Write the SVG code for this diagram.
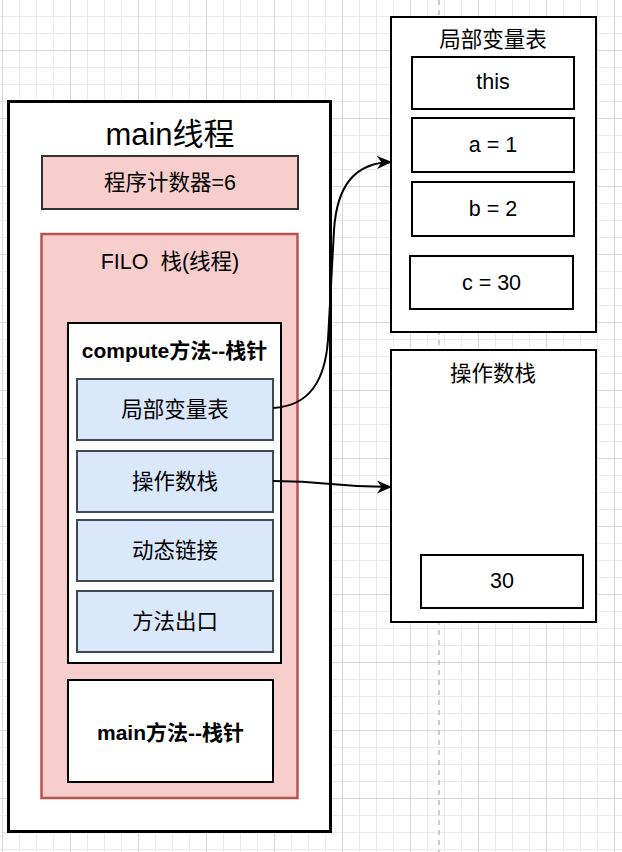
<svg xmlns="http://www.w3.org/2000/svg" width="622" height="852" viewBox="0 0 622 852">
<defs>
<pattern id="grid" patternUnits="userSpaceOnUse" x="2" y="50" width="68" height="68">
<path d="M17.5 0V68M34.5 0V68M51.5 0V68M0 17.5H68M0 34.5H68M0 51.5H68" stroke="#ebebeb" stroke-width="1" fill="none"/>
<path d="M0.5 0V68M0 0.5H68" stroke="#d8d8d8" stroke-width="1" fill="none"/>
</pattern>
<marker id="arrow" viewBox="0 0 15 13" refX="14" refY="6.5" markerWidth="15" markerHeight="13" markerUnits="userSpaceOnUse" orient="auto">
<path d="M0,0 L15,6.5 L0,13 L4.5,6.5 Z" fill="#000"/>
</marker>
</defs>
<style>
text{font-family:"Liberation Sans","Noto Sans CJK SC",sans-serif;fill:#000;text-anchor:middle;dominant-baseline:central}
.t{font-size:21.5px}
.b{font-size:21px;font-weight:bold}
.box{fill:#fff;stroke:#000;stroke-width:2}
.blue{fill:#dae8fc;stroke:#404854;stroke-width:2}
.edge{fill:none;stroke:#000;stroke-width:2}
</style>
<rect width="622" height="852" fill="#fff"/>
<rect width="622" height="852" fill="url(#grid)"/>
<line x1="439" y1="0" x2="439" y2="852" stroke="#bdbdbd" stroke-width="1.5" stroke-dasharray="5 5"/>

<g id="main-thread">
<rect x="8.5" y="101.5" width="322" height="730" fill="#fff" stroke="#000" stroke-width="3"/>
<text x="170" y="134" style="font-size:31px">main线程</text>
</g>
<g id="pc">
<rect x="42" y="156" width="256" height="53" fill="#f8cecc" stroke="#333" stroke-width="2"/>
<text class="t" x="170" y="183">程序计数器=6</text>
</g>
<g id="filo">
<rect x="41.5" y="234" width="256" height="564" fill="#f8cecc" stroke="#b85450" stroke-width="2.5"/>
<text class="t" x="170" y="262" xml:space="preserve">FILO  栈(线程)</text>
</g>
<g id="compute">
<rect class="box" x="68" y="323" width="213" height="340"/>
<text class="b" x="174.5" y="350">compute方法--栈针</text>
</g>
<g id="local-vars">
<rect class="blue" x="77" y="379" width="196" height="61"/>
<text class="t" x="175" y="409.5">局部变量表</text>
</g>
<g id="operand-stack">
<rect class="blue" x="77" y="451" width="196" height="61"/>
<text class="t" x="175" y="481.5">操作数栈</text>
</g>
<g id="dynamic-link">
<rect class="blue" x="77" y="520" width="196" height="61"/>
<text class="t" x="175" y="550.5">动态链接</text>
</g>
<g id="method-exit">
<rect class="blue" x="77" y="591" width="196" height="61"/>
<text class="t" x="175" y="621.5">方法出口</text>
</g>
<g id="main-method">
<rect class="box" x="68" y="680" width="205" height="102"/>
<text class="b" x="170.5" y="732">main方法--栈针</text>
</g>

<g id="lvt-panel">
<rect class="box" x="391" y="17" width="205" height="315"/>
<text class="t" x="493" y="40">局部变量表</text>
</g>
<g id="var-this">
<rect class="box" x="412" y="57" width="162" height="52"/>
<text class="t" x="493" y="82">this</text>
</g>
<g id="var-a">
<rect class="box" x="412" y="118" width="162" height="54"/>
<text class="t" x="493" y="145">a = 1</text>
</g>
<g id="var-b">
<rect class="box" x="412" y="182" width="162" height="54"/>
<text class="t" x="493" y="209">b = 2</text>
</g>
<g id="var-c">
<rect class="box" x="410" y="256" width="163" height="53"/>
<text class="t" x="491.5" y="282.5">c = 30</text>
</g>

<g id="os-panel">
<rect class="box" x="391" y="350" width="205" height="272"/>
<text class="t" x="493" y="374">操作数栈</text>
</g>
<g id="os-30">
<rect class="box" x="421" y="555" width="162" height="53"/>
<text class="t" x="502" y="581">30</text>
</g>

<g id="connectors">
<path class="edge" d="M273,408 C310,406 325,380 328,340 L334,230 C337,185 355,163 391,162" marker-end="url(#arrow)"/>
<path class="edge" d="M273,481 C332,481 330,487 391,487" marker-end="url(#arrow)"/>
</g>
</svg>
